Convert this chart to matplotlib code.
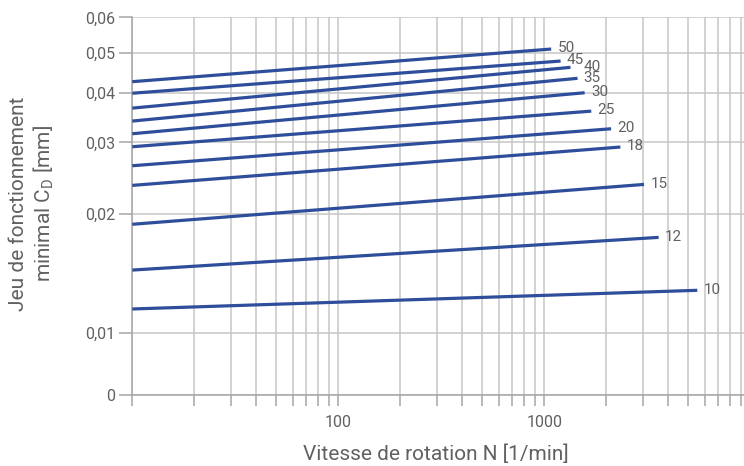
import matplotlib
matplotlib.use("Agg")
import matplotlib.pyplot as plt
import matplotlib.ticker as mticker
import numpy as np

# diameter curves: value at N=10, end speed, value at end speed
diameters = ["10", "12", "15", "18", "20", "25", "30", "35", "40", "45", "50"]
n_start = [10, 10, 10, 10, 10, 10, 10, 10, 10, 10, 10]
cd_start = [0.0115, 0.01442, 0.01882, 0.0235, 0.02627, 0.02926, 0.03155, 0.03398, 0.03666, 0.0400, 0.04263]
n_end = [5530, 3590, 3050, 2340, 2110, 1690, 1570, 1450, 1340, 1200, 1080]
cd_end = [0.01282, 0.01744, 0.02363, 0.02921, 0.03248, 0.03602, 0.04011, 0.04343, 0.04613, 0.04776, 0.05096]

y_ticks = [0, 0.01, 0.02, 0.03, 0.04, 0.05, 0.06]
y_labels = ["0", "0,01", "0,02", "0,03", "0,04", "0,05", "0,06"]
x_ticks = [10, 100, 1000]
x_labels = ["", "100", "1000"]

# the vertical axis is a (nearly) log scale above 0.01 with a broken step down to 0
YT = np.array([0.01, 0.02, 0.03, 0.04, 0.05, 0.06])
HT = np.array([61.5, 180.7, 252.2, 301.3, 341.8, 377.2])


def fwd(y):
    y = np.asarray(y, float)
    ly = np.log10(np.clip(y, 0.01, None))
    hi = np.interp(ly, np.log10(YT), HT)
    lo = y / 0.01 * HT[0]
    return np.where(y >= 0.01, hi, lo)


def inv(h):
    h = np.asarray(h, float)
    hi = 10 ** np.interp(h, HT, np.log10(YT))
    lo = h / HT[0] * 0.01
    return np.where(h >= HT[0], hi, lo)


plt.rcParams["font.family"] = ["Roboto", "DejaVu Sans"]
text_col = "#616161"
line_col = "#2e4d9a"
grid_col = "#c6c6c6"
axis_col = "#a5a5a5"

fig = plt.figure(figsize=(7.44, 4.66), dpi=100)
ax = fig.add_axes([0.1778, 0.1534, 0.8222, 0.8094])

ax.set_xscale("log")
ax.set_yscale("function", functions=(fwd, inv))
ax.set_xlim(10, 9320)
ax.set_ylim(0, 0.06)

for d, x0, y0, x1, y1 in zip(diameters, n_start, cd_start, n_end, cd_end):
    ax.plot([x0, x1], [y0, y1], color=line_col, lw=2.3, solid_capstyle="butt", zorder=3)
    dx = 9.5 if d == "40" else 4.5
    ax.annotate(d, (x1, y1), xytext=(dx, 0.5), textcoords="offset points",
                ha="left", va="center", fontsize=11, color=text_col)

ax.xaxis.set_major_locator(mticker.FixedLocator(x_ticks))
ax.xaxis.set_major_formatter(mticker.FixedFormatter(x_labels))
ax.xaxis.set_minor_locator(mticker.LogLocator(base=10, subs=np.arange(2, 10)))
ax.xaxis.set_minor_formatter(mticker.NullFormatter())
ax.yaxis.set_major_locator(mticker.FixedLocator(y_ticks))
ax.yaxis.set_major_formatter(mticker.FixedFormatter(y_labels))
ax.yaxis.set_minor_locator(mticker.NullLocator())

ax.grid(which="both", axis="x", color=grid_col, lw=1.1)
ax.grid(which="major", axis="y", color=grid_col, lw=1.1)
ax.set_axisbelow(True)

for s in ["top", "right"]:
    ax.spines[s].set_visible(False)
for s in ["left", "bottom"]:
    ax.spines[s].set_color(axis_col)
    ax.spines[s].set_linewidth(1.1)

ax.tick_params(axis="x", which="both", direction="out", length=8, width=1.1,
               color=axis_col, labelcolor=text_col, labelsize=11.5, pad=7)
ax.tick_params(axis="y", which="major", direction="out", length=9.5, width=1.1,
               color=axis_col, labelcolor=text_col, labelsize=11.5, pad=3)

fig.text(0.586, 0.012, "Vitesse de rotation N [1/min]", fontsize=15, color=text_col,
         ha="center", va="baseline")
fig.text(0.0437, 0.563, "Jeu de fonctionnement\nminimal C$_\\mathregular{D}$ [mm]",
         fontsize=15, color=text_col, rotation=90, ha="center", va="center",
         multialignment="center", linespacing=1.2)

fig.savefig("out.png", dpi=100)
